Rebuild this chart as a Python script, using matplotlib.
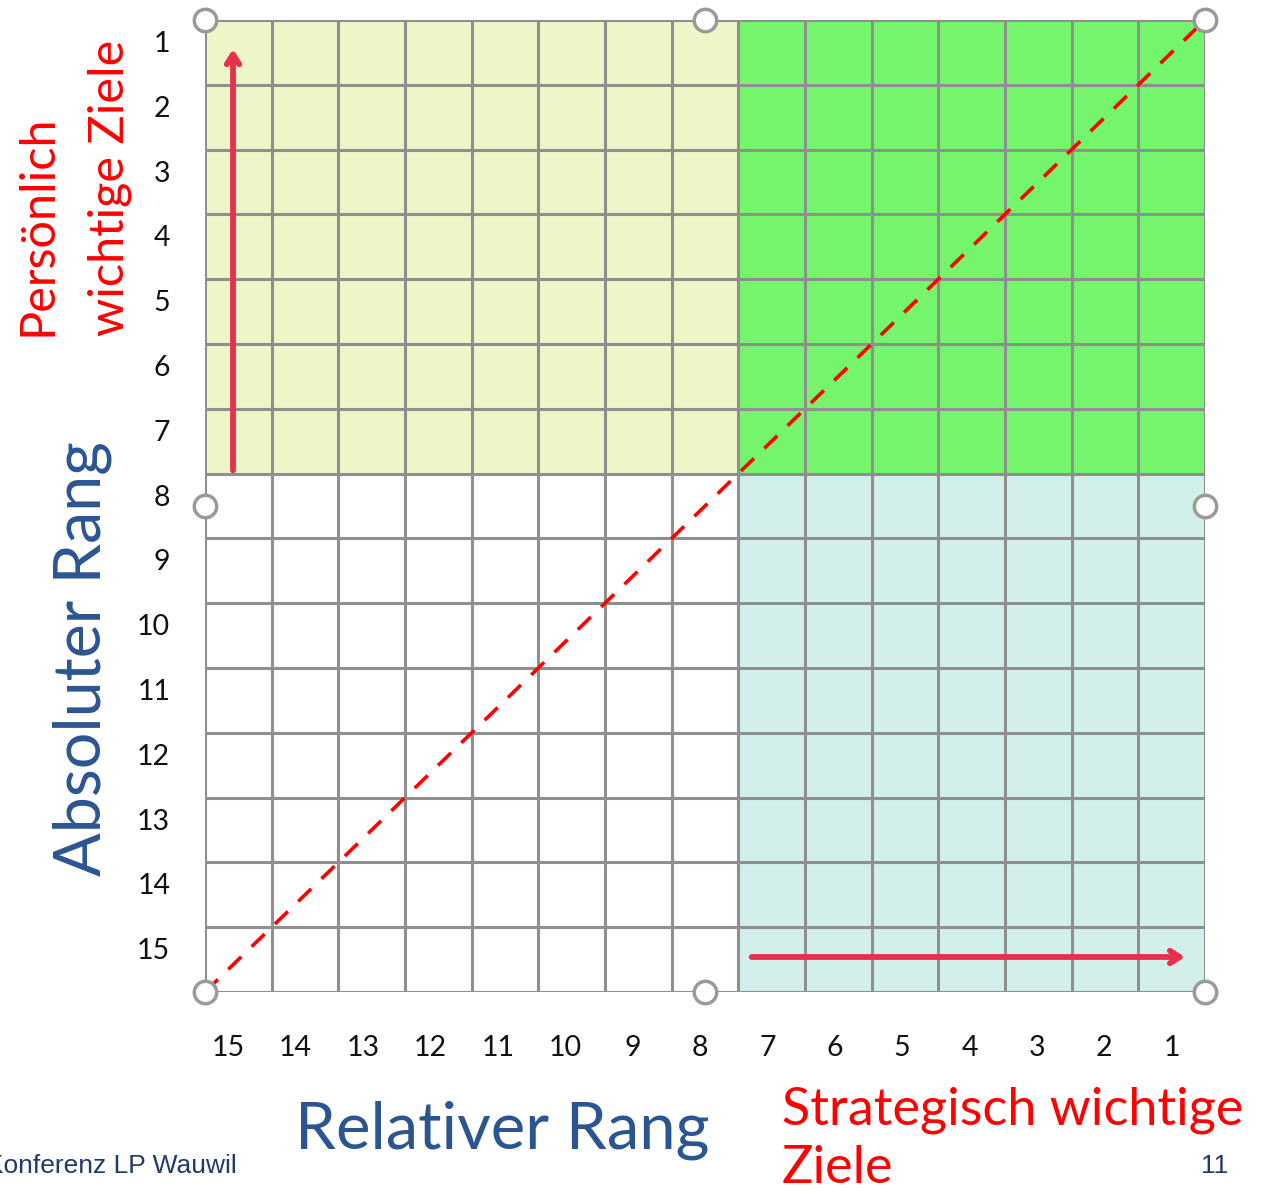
import matplotlib.pyplot as plt
from matplotlib.patches import Rectangle
from matplotlib.transforms import ScaledTranslation

# ranks shown on the axes (relative rank runs 15 -> 1 from left to right)
rel_ranks = list(range(15, 0, -1))
abs_ranks = list(range(1, 16))
n_ranks = 15
split = 7.5  # boundary between rank 7 and 8

# quadrants: x range, y range in rank units, colour
quad_x = [(15.5, split), (split, 0.5), (split, 0.5)]
quad_y = [(0.5, split), (0.5, split), (split, 15.5)]
quad_colors = ["#EEF5C7", "#74F56C", "#D2EFE9"]

# arrows in rank units: start, end
arrow_up = [(15.08, 7.45), (15.08, 0.95)]
arrow_right = [(7.3, 14.96), (0.8, 14.96)]

# selection handles of the slide object
handle_x = [15.5, 8.0, 0.5, 15.5, 0.5, 15.5, 8.0, 0.5]
handle_y = [0.5, 0.5, 0.5, 8.0, 8.0, 15.5, 15.5, 15.5]

W, H = 1276, 1191
fig = plt.figure(figsize=(W / 100, H / 100), dpi=100)
plt.rcParams["font.family"] = ["Lato", "DejaVu Sans"]

def px(x, y):  # pixel (from top-left) -> figure fraction
    return x / W, 1 - y / H

left, top, right, bottom = 205, 20, 1205, 992
ax = fig.add_axes([left / W, 1 - bottom / H, (right - left) / W, (bottom - top) / H])
ax.set_xlim(15.5, 0.5)
ax.set_ylim(15.5, 0.5)

for (x0, x1), (y0, y1), c in zip(quad_x, quad_y, quad_colors):
    ax.add_patch(Rectangle((min(x0, x1), min(y0, y1)), abs(x1 - x0), abs(y1 - y0),
                           facecolor=c, edgecolor="none", zorder=0))

grid_col = "#8F8F8F"
for k in range(n_ranks + 1):
    ax.axvline(0.5 + k, color=grid_col, lw=2.2, zorder=1)
    ax.axhline(0.5 + k, color=grid_col, lw=2.2, zorder=1)
for s in ax.spines.values():
    s.set_visible(False)

# diagonal
ax.plot([15.5, 0.5], [15.5, 0.5], color="#FF0000", lw=2.6, ls=(0, (5, 4)), zorder=3)

# arrows
for (p0, p1) in [arrow_up, arrow_right]:
    ax.annotate("", xy=p1, xytext=p0,
                arrowprops=dict(arrowstyle="->,head_length=0.7,head_width=0.45",
                                color="#E8304E", lw=4.2, shrinkA=0, shrinkB=0),
                zorder=4)

ax.scatter(handle_x, handle_y, s=260, facecolor="white", edgecolor="#9A9A9A",
           linewidth=2.5, zorder=5, clip_on=False)

ax.set_xticks(rel_ranks)
ax.set_xticklabels([str(r) for r in rel_ranks])
ax.set_yticks(abs_ranks)
ax.set_yticklabels([str(r) for r in abs_ranks])
ax.tick_params(length=0, labelsize=20.5, colors="#111111")
ax.tick_params(axis="x", pad=31)
ax.tick_params(axis="y", pad=25)
for lab in ax.get_yticklabels():
    lab.set_transform(lab.get_transform() + ScaledTranslation(0, 0.11, fig.dpi_scale_trans))
# labels in the slide sit a bit left of the column centres, more so on the left
for lab, r in zip(ax.get_xticklabels(), rel_ranks):
    shift = -(r - 1) * 0.0072
    lab.set_transform(lab.get_transform() + ScaledTranslation(shift, 0, fig.dpi_scale_trans))

blue = "#2B5591"
red = "#FF0000"
anchor = dict(rotation_mode="anchor", ha="left", va="baseline")
fig.text(*px(101, 876), "Absoluter Rang", rotation=90, color=blue, fontsize=46.5, **anchor)
fig.text(*px(295, 1148), "Relativer Rang", color=blue, fontsize=47, **anchor)
fig.text(*px(52, 336), "Persönlich", rotation=90, color=red, fontsize=35, **anchor)
fig.text(*px(124, 336), "wichtige Ziele", rotation=90, color=red, fontsize=35, **anchor)
fig.text(*px(782, 1124), "Strategisch wichtige", color=red, fontsize=37.5, **anchor)
fig.text(*px(782, 1183), "Ziele", color=red, fontsize=37.5, **anchor)

fig.text(*px(237, 1173), "Konferenz LP Wauwil", color="#1F3A68", fontsize=19,
         family="Liberation Sans", ha="right", va="baseline")
fig.text(*px(1228, 1173), "11", color="#1F3A68", fontsize=19,
         family="Liberation Sans", ha="right", va="baseline")

fig.savefig("out.png", dpi=100)
